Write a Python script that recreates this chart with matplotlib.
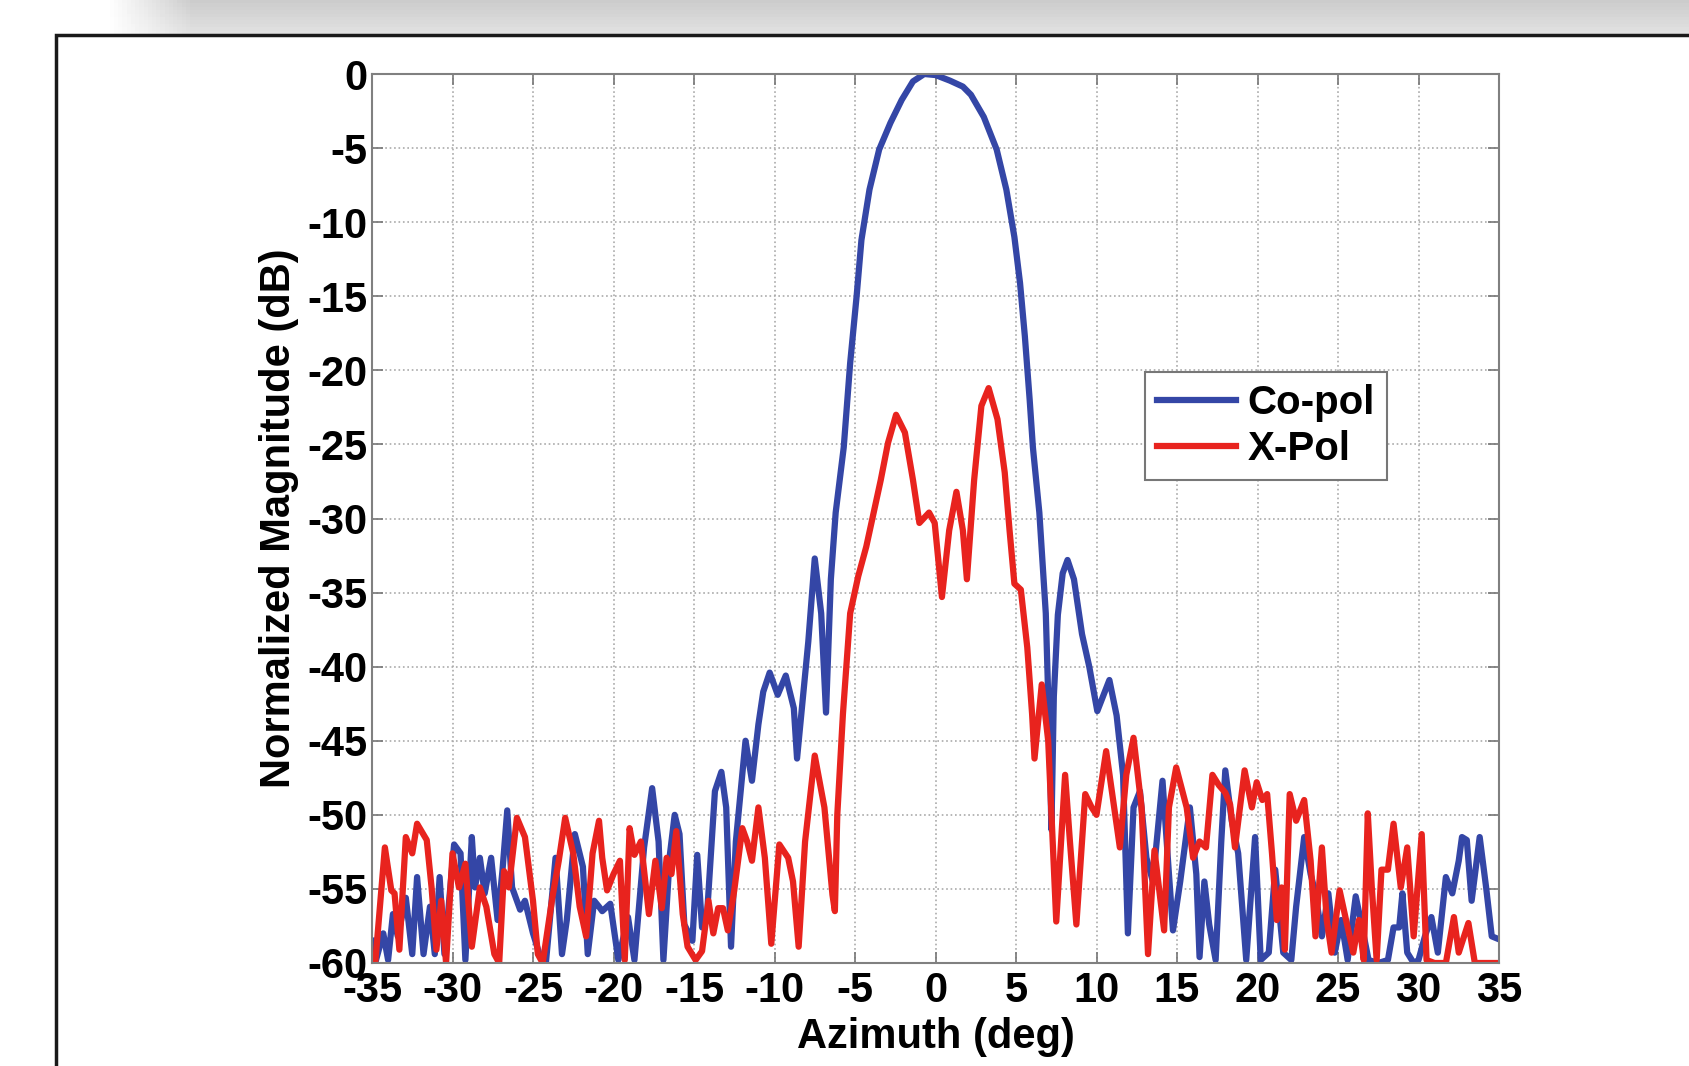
import numpy as np
import matplotlib
matplotlib.use("Agg")
import matplotlib.pyplot as plt
from matplotlib.patches import Rectangle

# Co-pol pattern (azimuth in deg, normalized magnitude in dB)
co_az = [-35.0, -34.8, -34.3, -34.0, -33.7, -33.4, -32.9, -32.5, -32.2, -31.8,
         -31.4, -31.1, -30.8, -30.5, -29.9, -29.5, -29.2, -28.8, -28.6, -28.3,
         -28.0, -27.6, -27.2, -26.9, -26.6, -26.3, -25.8, -25.5, -25.0, -24.6,
         -24.2, -23.6, -23.2, -22.9, -22.4, -21.9, -21.6, -21.2, -20.9, -20.7,
         -20.2, -19.7, -19.1, -18.7, -18.1, -17.6, -17.2, -16.9, -16.5, -16.2,
         -15.9, -15.6, -15.1, -14.8, -14.5, -14.2, -13.7, -13.3, -13.0, -12.7,
         -12.4, -11.8, -11.4, -11.0, -10.7, -10.3, -9.8, -9.3, -8.8, -8.6,
         -8.2, -7.9, -7.5, -7.1, -6.8, -6.5, -6.2, -5.7, -5.3, -4.9,
         -4.6, -4.1, -3.5, -2.8, -2.1, -1.4, -0.7, 0.0, 0.9, 1.7,
         2.2, 3.0, 3.8, 4.4, 4.9, 5.25, 5.55, 5.85, 6.05, 6.45,
         6.85, 7.0, 7.1, 7.2, 7.35, 7.6, 7.9, 8.2, 8.6, 9.1,
         9.55, 10.05, 10.8, 11.25, 11.65, 11.95, 12.3, 12.7, 13.1, 13.5,
         14.1, 14.5, 14.75, 15.2, 15.8, 16.2, 16.4, 16.7, 17.0, 17.4,
         17.75, 18.0, 18.4, 18.8, 19.3, 19.85, 20.2, 20.7, 21.1, 21.6,
         22.1, 22.4, 22.9, 23.3, 23.6, 24.0, 24.4, 24.8, 25.2, 25.6,
         26.1, 26.5, 26.9, 27.5, 28.1, 28.45, 28.8, 29.0, 29.3, 29.7,
         30.0, 30.4, 30.8, 31.2, 31.7, 32.1, 32.5, 32.7, 33.0, 33.3,
         33.8, 34.2, 34.55, 35.0]
co_db = [-58.5, -60.0, -58.0, -59.8, -56.7, -58.2, -55.6, -59.4, -54.2, -59.4,
         -56.2, -59.4, -54.2, -59.4, -52.0, -52.6, -59.8, -51.5, -54.9, -52.9,
         -55.3, -52.9, -57.1, -53.8, -49.7, -54.9, -56.4, -55.8, -58.0, -59.4,
         -60.0, -52.9, -59.4, -57.1, -51.3, -53.5, -59.4, -55.8, -56.2, -56.5,
         -56.0, -59.8, -56.9, -59.8, -52.2, -48.2, -51.8, -59.8, -52.7, -50.0,
         -51.3, -57.4, -58.5, -52.7, -57.6, -56.9, -48.4, -47.1, -49.5, -58.9,
         -51.8, -45.0, -47.7, -43.9, -41.7, -40.4, -41.9, -40.6, -42.8, -46.2,
         -41.7, -38.3, -32.7, -36.4, -43.1, -34.1, -29.6, -25.2, -19.5, -15.0,
         -11.2, -7.8, -5.1, -3.3, -1.75, -0.5, 0.0, -0.07, -0.45, -0.85,
         -1.4, -2.9, -5.1, -7.8, -11.0, -14.1, -17.7, -22.0, -25.2, -29.6,
         -36.4, -42.0, -46.0, -51.0, -42.0, -36.5, -33.7, -32.8, -34.1, -37.8,
         -40.0, -43.0, -40.9, -43.3, -47.3, -58.0, -49.5, -48.4, -52.9, -54.5,
         -47.7, -54.0, -57.8, -54.5, -49.5, -54.0, -59.6, -54.5, -57.4, -59.8,
         -51.8, -47.0, -50.4, -52.6, -59.8, -51.5, -59.8, -59.3, -53.7, -59.3,
         -59.8, -56.2, -51.5, -54.0, -55.3, -58.2, -55.3, -59.3, -57.1, -59.8,
         -55.5, -57.6, -59.8, -60.0, -59.8, -57.6, -57.6, -55.3, -59.3, -60.0,
         -59.8, -58.2, -56.9, -59.3, -54.2, -55.3, -53.1, -51.5, -51.7, -55.8,
         -51.5, -54.9, -58.2, -58.4]

# X-pol pattern
x_az = [-35.0, -34.8, -34.2, -33.8, -33.6, -33.3, -32.9, -32.5, -32.2, -31.6,
        -31.3, -31.0, -30.7, -30.4, -30.0, -29.6, -29.2, -28.8, -28.3, -27.9,
        -27.4, -27.1, -26.8, -26.5, -26.0, -25.5, -25.0, -24.7, -24.4, -23.8,
        -23.4, -23.0, -22.5, -22.1, -21.7, -21.3, -20.9, -20.7, -20.4, -20.0,
        -19.6, -19.3, -19.0, -18.7, -18.3, -17.8, -17.4, -17.0, -16.7, -16.4,
        -16.1, -15.7, -15.4, -14.9, -14.5, -14.1, -13.8, -13.5, -13.2, -12.9,
        -12.5, -12.0, -11.7, -11.4, -11.0, -10.6, -10.2, -9.7, -9.15, -8.85,
        -8.5, -8.1, -7.5, -6.9, -6.4, -6.25, -6.1, -5.75, -5.3, -4.8,
        -4.3, -3.9, -3.4, -2.95, -2.45, -1.9, -1.4, -1.0, -0.4, -0.05,
        0.4, 0.85, 1.3, 1.7, 1.95, 2.4, 2.85, 3.3, 3.85, 4.3,
        4.6, 4.9, 5.3, 5.7, 6.0, 6.15, 6.6, 7.0, 7.5, 8.05,
        8.35, 8.75, 9.3, 9.7, 10.0, 10.6, 11.1, 11.45, 11.85, 12.3,
        12.8, 13.2, 13.6, 13.9, 14.2, 14.5, 14.95, 15.6, 16.0, 16.4,
        16.8, 17.2, 17.6, 18.0, 18.3, 18.6, 19.2, 19.65, 19.95, 20.3,
        20.6, 20.9, 21.2, 21.5, 21.7, 22.0, 22.4, 22.9, 23.3, 23.6,
        24.0, 24.3, 24.6, 25.1, 25.5, 25.95, 26.3, 26.6, 26.85, 27.1,
        27.4, 27.7, 28.1, 28.45, 28.9, 29.3, 29.7, 30.2, 30.5, 31.0,
        31.7, 32.2, 32.5, 33.1, 33.5, 34.2, 35.0]
x_db = [-60.0, -60.0, -52.2, -55.1, -55.3, -59.1, -51.5, -52.6, -50.6, -51.7,
        -54.9, -59.1, -55.8, -60.0, -52.6, -54.9, -53.3, -58.9, -54.9, -56.2,
        -59.4, -60.0, -53.8, -54.9, -50.2, -51.5, -55.8, -59.4, -60.0, -55.6,
        -53.1, -50.2, -52.6, -56.2, -58.2, -52.6, -50.4, -52.9, -55.1, -54.0,
        -53.1, -59.8, -50.9, -52.7, -51.8, -56.7, -53.1, -56.3, -52.9, -54.0,
        -51.1, -56.7, -58.9, -59.8, -59.2, -55.8, -58.0, -56.3, -56.3, -57.8,
        -55.1, -50.9, -51.8, -53.1, -49.5, -52.9, -58.7, -52.0, -52.9, -54.5,
        -58.9, -51.8, -46.0, -49.5, -55.4, -56.5, -50.0, -43.2, -36.4, -33.9,
        -31.9, -29.9, -27.4, -24.9, -23.0, -24.2, -27.4, -30.3, -29.6, -30.3,
        -35.3, -30.8, -28.2, -30.8, -34.1, -27.4, -22.4, -21.2, -23.3, -26.9,
        -30.8, -34.4, -34.8, -38.7, -43.2, -46.2, -41.2, -45.0, -57.2, -47.3,
        -51.8, -57.4, -48.6, -49.5, -50.0, -45.7, -49.5, -52.2, -47.3, -44.8,
        -49.5, -59.4, -52.4, -55.1, -57.8, -49.5, -46.8, -49.5, -52.9, -51.8,
        -52.2, -47.3, -48.0, -48.5, -49.3, -52.2, -47.0, -49.5, -47.8, -49.0,
        -48.6, -52.6, -57.1, -54.9, -59.1, -48.6, -50.4, -49.0, -53.1, -58.2,
        -52.2, -57.1, -59.3, -55.1, -57.1, -59.3, -57.1, -59.8, -49.9, -54.9,
        -59.8, -53.7, -53.7, -50.6, -54.9, -52.2, -58.2, -51.3, -59.8, -60.0,
        -60.0, -56.9, -59.3, -57.3, -60.0, -60.0, -60.0]

x_ticks = list(range(-35, 36, 5))
y_ticks = list(range(-60, 1, 5))

plt.rcParams["font.family"] = ["Liberation Sans", "DejaVu Sans"]
plt.rcParams["font.weight"] = "bold"
plt.rcParams["axes.unicode_minus"] = False

fig = plt.figure(figsize=(16.89, 10.66), dpi=100)

# greyish blurred strip at the very top of the scan
strip = fig.add_axes([0, 1 - 34 / 1066, 1, 34 / 1066])
w = 400
fade = np.clip((np.arange(w) - 25) / 20.0, 0, 1)
shade = np.linspace(0.80, 0.88, 10)[:, None]
grey = 1 - fade[None, :] * (1 - shade)
strip.imshow(grey, cmap="gray", vmin=0, vmax=1, aspect="auto",
             extent=[0, 1, 0, 1])
strip.axis("off")

# black frame of the figure panel
fig.patches.append(Rectangle((56 / 1689, -0.1), 1.2, 1.1 - 35 / 1066,
                             transform=fig.transFigure, fill=False,
                             edgecolor="#1a1a1a", linewidth=2.5))

ax = fig.add_axes([372 / 1689, (1066 - 963) / 1066, 1127 / 1689, 889 / 1066])
ax.plot(co_az, co_db, color="#3446a6", linewidth=4.5, label="Co-pol",
        solid_joinstyle="round")
ax.plot(x_az, x_db, color="#e8231e", linewidth=4.5, label="X-Pol",
        solid_joinstyle="round")

ax.set_xlim(-35, 35)
ax.set_ylim(-60, 0)
ax.set_xticks(x_ticks)
ax.set_yticks(y_ticks)
ax.tick_params(direction="in", length=8, width=1.2, colors="#777777",
               labelcolor="black", labelsize=30, top=True, right=True, pad=3)
ax.tick_params(axis="x", pad=6)
for lab in ax.get_xticklabels() + ax.get_yticklabels():
    lab.set_fontweight("bold")
ax.grid(True, linestyle=":", color="#aaaaaa", linewidth=1.2)
for sp in ax.spines.values():
    sp.set_color("#808080")
    sp.set_linewidth(1.5)

ax.set_xlabel("Azimuth (deg)", fontsize=30, fontweight="bold", labelpad=4)
ax.set_ylabel("Normalized Magnitude (dB)", fontsize=30, fontweight="bold",
              labelpad=6)

leg = ax.legend(loc="upper left", bbox_to_anchor=(0.686, 0.665),
                borderaxespad=0, fancybox=False, framealpha=1,
                edgecolor="#777777", fontsize=29, handlelength=1.95,
                handletextpad=0.3, borderpad=0.3, labelspacing=0.2)
leg.get_frame().set_linewidth(1.5)
for t in leg.get_texts():
    t.set_fontweight("bold")

fig.savefig("out.png", dpi=100)
